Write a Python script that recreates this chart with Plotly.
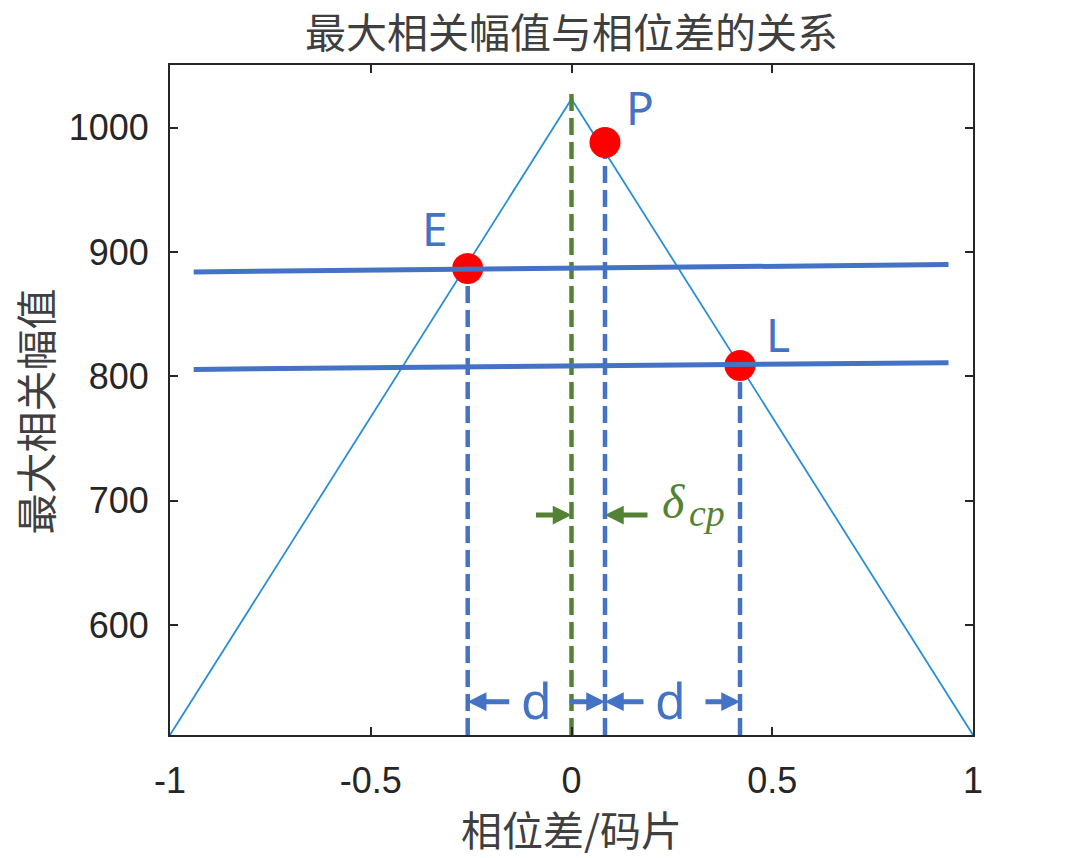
import plotly.graph_objects as go

# ---------------- data ----------------
phase = [-1, 0, 1]                 # 相位差 / 码片
corr = [511.5, 1023, 511.5]        # 最大相关幅值 (triangle)

pt_names = ["E", "P", "L"]
pt_x = [-0.2585, 0.0834, 0.4197]
pt_y = [886.6, 988.0, 808.7]

h_x = [-0.941, 0.939]              # two slightly tilted horizontal lines
h1_y = [883.9, 889.8]
h2_y = [805.5, 810.9]

peak_line_top = 1028.4             # green dashed line at phase 0

x_ticks = [-1, -0.5, 0, 0.5, 1]
x_ticklabels = ["-1", "-0.5", "0", "0.5", "1"]
y_ticks = [600, 700, 800, 900, 1000]
y_ticklabels = ["600", "700", "800", "900", "1000"]

Y_MIN, Y_MAX = 511.5, 1050.3
X_MIN, X_MAX = -1, 1

# ---------------- styles ----------------
BLUE = "#4472C4"
GREEN = "#548235"
TRI = "#2a8fd4"
AX = "#262626"
CJK = "Noto Sans CJK SC"
CJK_COL = "#3f3f3f"
DASH = "17px,7px"

fig = go.Figure()

fig.add_trace(go.Scatter(x=phase, y=corr, mode="lines",
                         line=dict(color=TRI, width=1.8), hoverinfo="skip"))

fig.add_trace(go.Scatter(x=[0, 0], y=[Y_MIN, peak_line_top], mode="lines",
                         line=dict(color=GREEN, width=4.5, dash=DASH), hoverinfo="skip"))

for xv, yv in zip(pt_x, pt_y):
    fig.add_trace(go.Scatter(x=[xv, xv], y=[Y_MIN, yv], mode="lines",
                             line=dict(color=BLUE, width=4.5, dash=DASH), hoverinfo="skip"))

fig.add_trace(go.Scatter(x=pt_x, y=pt_y, mode="markers",
                         marker=dict(color="#FF0000", size=31, line=dict(width=0)),
                         hoverinfo="skip"))

for hy in (h1_y, h2_y):
    fig.add_trace(go.Scatter(x=h_x, y=hy, mode="lines",
                             line=dict(color=BLUE, width=5), hoverinfo="skip"))

ann = []
# point labels
shifts = {"E": (-33, 41), "P": (35, 35), "L": (38, 31)}
for n, xv, yv in zip(pt_names, pt_x, pt_y):
    dx, dy = shifts[n]
    ann.append(dict(x=xv, y=yv, xref="x", yref="y", text=n, showarrow=False,
                    xshift=dx, yshift=dy,
                    font=dict(family="Noto Sans", size=46, color=BLUE)))

# d arrows (pixel offsets for the tails)
y_arrow = 538.3
arrow_defs = [(pt_x[0], 43, BLUE, y_arrow), (pt_x[1], -37, BLUE, y_arrow),
              (pt_x[1], 40, BLUE, y_arrow), (pt_x[2], -36, BLUE, y_arrow)]
y_garrow = 688.4
arrow_defs += [(0, -37, GREEN, y_garrow), (pt_x[1], 44, GREEN, y_garrow)]
for xt, axp, col, ya in arrow_defs:
    ann.append(dict(x=xt, y=ya, xref="x", yref="y", ax=axp, ay=0,
                    axref="pixel", ayref="pixel", text="", showarrow=True,
                    arrowhead=2, arrowsize=0.75, arrowwidth=5, arrowcolor=col,
                    standoff=0))

# d labels
ann.append(dict(x=(pt_x[0] + 0) / 2, y=y_arrow, xref="x", yref="y", text="d",
                showarrow=False, xshift=17, yshift=2,
                font=dict(family="Noto Sans", size=50, color=BLUE)))
ann.append(dict(x=(pt_x[1] + pt_x[2]) / 2, y=y_arrow, xref="x", yref="y", text="d",
                showarrow=False, xshift=-2, yshift=2,
                font=dict(family="Noto Sans", size=50, color=BLUE)))

# delta_cp label (delta + subscript cp)
ann.append(dict(x=pt_x[1], y=y_garrow, xref="x", yref="y",
                text="<i>δ</i>", showarrow=False,
                xanchor="left", xshift=55, yshift=14,
                font=dict(family="Liberation Serif", size=48, color=GREEN)))
ann.append(dict(x=pt_x[1], y=y_garrow, xref="x", yref="y",
                text="<i>cp</i>", showarrow=False,
                xanchor="left", xshift=82, yshift=2,
                font=dict(family="Liberation Serif", size=38, color=GREEN)))

# axis titles
ann.append(dict(x=0.5, y=-0.139, xref="paper", yref="paper", text="相位差/码片",
                showarrow=False, yanchor="middle",
                font=dict(family=CJK, size=41, color=CJK_COL)))
ann.append(dict(x=-0.17, y=0.4836, xref="paper", yref="paper", text="最大相关幅值",
                showarrow=False, textangle=-90, xanchor="center", yanchor="middle",
                font=dict(family=CJK, size=41, color=CJK_COL)))

axis_common = dict(showline=True, mirror="ticks", linecolor=AX, linewidth=2,
                   ticks="inside", ticklen=8, tickwidth=1.5, tickcolor=AX,
                   showgrid=False, zeroline=False,
                   tickfont=dict(family="Liberation Sans", size=36, color=AX))

fig.update_layout(
    width=1076, height=858,
    margin=dict(l=170, r=103, t=65, b=123),
    paper_bgcolor="white", plot_bgcolor="white",
    showlegend=False,
    title=dict(text="最大相关幅值与相位差的关系", x=0.5, xref="paper",
               y=1 - 34 / 858, yref="container", yanchor="middle", xanchor="center",
               font=dict(family=CJK, size=41, color=CJK_COL)),
    xaxis=dict(range=[X_MIN, X_MAX], tickvals=x_ticks, ticktext=x_ticklabels,
               ticklabelstandoff=13, **axis_common),
    yaxis=dict(range=[Y_MIN, Y_MAX], tickvals=y_ticks, ticktext=y_ticklabels,
               ticklabelstandoff=12, **axis_common),
    annotations=ann,
)

fig.write_html("out.html")
